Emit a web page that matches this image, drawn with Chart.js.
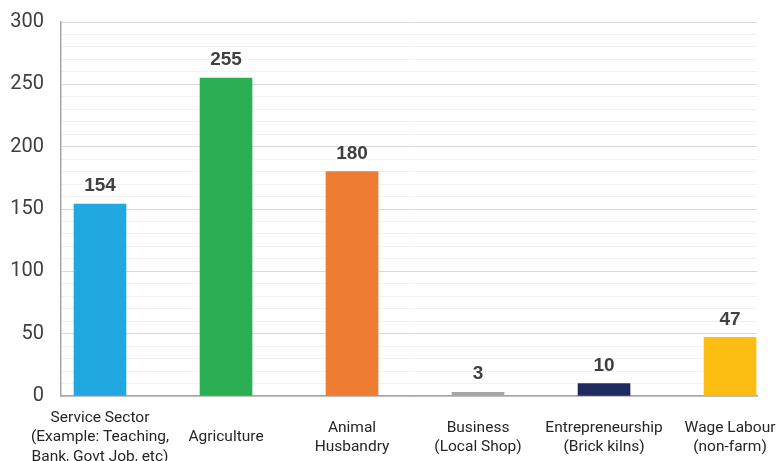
<!DOCTYPE html>
<html><head><meta charset="utf-8">
<script src="https://cdn.jsdelivr.net/npm/chart.js@4"></script>
<style>html,body{margin:0;padding:0;overflow:hidden;background:#fff;width:777px;height:461px}#wrap{width:777px;height:470px}</style>
</head><body><div id="wrap"><canvas id="c" width="777" height="470"></canvas></div>
<script>
const categories = [
  ["Service Sector", "(Example: Teaching,", "Bank, Govt Job, etc)"],
  ["Agriculture"],
  ["Animal", "Husbandry"],
  ["Business", "(Local Shop)"],
  ["Entrepreneurship", "(Brick kilns)"],
  ["Wage Labour", "(non-farm)"]
];
const values = [154, 255, 180, 3, 10, 47];
const barColors = ["#22A8E0", "#2AB052", "#EE7D31", "#A5A5A5", "#1F2B5E", "#FDBD13"];
const yTicks = [0, 50, 100, 150, 200, 250, 300];

const points = values.map((v, i) => ({x: i, y: v}));

const valueLabels = {
  id: 'valueLabels',
  afterDatasetsDraw(chart) {
    const ctx = chart.ctx;
    const meta = chart.getDatasetMeta(0);
    ctx.save();
    ctx.font = 'bold 19px "Liberation Sans", Arial, sans-serif';
    ctx.fillStyle = '#404040';
    ctx.textAlign = 'center';
    ctx.textBaseline = 'middle';
    meta.data.forEach((bar, i) => {
      ctx.fillText(String(values[i]), bar.x, bar.y - 18);
    });
    ctx.restore();
  }
};

new Chart(document.getElementById('c'), {
  type: 'bar',
  data: {
    datasets: [{
      data: points,
      backgroundColor: barColors,
      borderWidth: 0,
      barThickness: 52
    }]
  },
  options: {
    responsive: false,
    animation: false,
    layout: {padding: {top: 22, right: 20, left: 0, bottom: 0}},
    plugins: {legend: {display: false}, tooltip: {enabled: false}},
    scales: {
      x: {
        type: 'linear',
        offset: false,
        min: -0.3095,
        max: 5.214,
        grid: {display: false, drawTicks: false, offset: false},
        border: {display: true, color: '#A6A6A6', width: 1.5},
        afterFit(s) { s.height = 74; s.paddingLeft = 0; s.paddingRight = 0; },
        afterBuildTicks(s) { s.ticks = categories.map((c, i) => ({value: i})); },
        ticks: {
          autoSkip: false,
          maxRotation: 0,
          minRotation: 0,
          padding: 22,
          crossAlign: 'center',
          color: '#262626',
          font: {family: 'Roboto, sans-serif', size: 15.5, lineHeight: 1.25},
          callback: (v) => categories[v]
        }
      },
      y: {
        min: 0,
        max: 300,
        afterFit(s) { s.width = 61; s.paddingTop = 0; s.paddingBottom = 0; },
        grid: {
          drawTicks: false,
          color: (c) => (c.tick && c.tick.value % 50 === 0) ? '#D9D9D9' : '#F2F2F2',
          lineWidth: 1
        },
        border: {display: true, color: '#A6A6A6', width: 1.5},
        ticks: {
          stepSize: 10,
          autoSkip: false,
          padding: 17,
          color: '#404040',
          font: {family: 'Roboto, sans-serif', size: 20},
          callback: (v) => yTicks.includes(v) ? String(v) : ''
        }
      }
    }
  },
  plugins: [valueLabels]
});
</script>
</body></html>
